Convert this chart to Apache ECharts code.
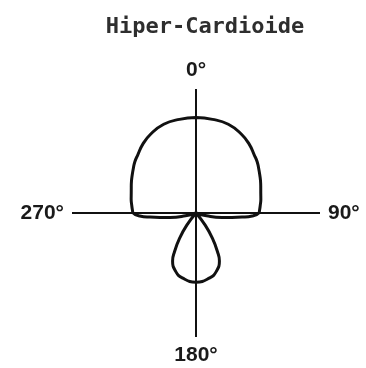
<!DOCTYPE html>
<html>
<head>
<meta charset="utf-8">
<style>
  html, body { margin: 0; padding: 0; background: #fff; }
  #chart { width: 366px; height: 368px; }
</style>
<script src="https://cdn.jsdelivr.net/npm/echarts@6/dist/echarts.min.js"></script>
</head>
<body>
<div id="chart"></div>
<script>
// Hypercardioid pick-up pattern: relative level (1 = on-axis) at each angle in degrees.
var patternAngles = [
  0, 10, 20, 30, 38, 45, 50, 54, 60, 64, 68, 73, 78, 83, 87, 90, 93, 95, 100, 105, 112,
  138, 143, 147, 151, 154, 161, 168, 180, 192, 199, 206, 209, 213, 217, 222,
  248, 255, 260, 265, 267, 270, 273, 277, 282, 287, 292, 296, 300, 306, 310, 315, 322, 330, 340, 350, 360
];
var patternLevels = [
  1.00, 0.997, 0.99, 0.953, 0.91, 0.863, 0.837, 0.81, 0.774, 0.753, 0.732, 0.71, 0.695, 0.679, 0.668, 0.658, 0.59, 0.485, 0.275, 0.115, 0,
  0, 0.16, 0.315, 0.465, 0.56, 0.65, 0.695, 0.725, 0.695, 0.65, 0.56, 0.465, 0.315, 0.16, 0,
  0, 0.115, 0.275, 0.485, 0.59, 0.658, 0.668, 0.679, 0.695, 0.71, 0.732, 0.753, 0.774, 0.81, 0.837, 0.863, 0.91, 0.953, 0.99, 0.997, 1.00
];
// Compass directions marked on the diagram
var directionTicks = [0, 90, 180, 270];
var titleText = 'Hiper-Cardioide';

var patternData = patternAngles.map(function (a, i) { return [patternLevels[i], a]; });

var chart = echarts.init(document.getElementById('chart'), null, { renderer: 'canvas' });
chart.setOption({
  backgroundColor: '#ffffff',
  animation: false,
  title: {
    text: titleText,
    left: 200,
    top: 11,
    textAlign: 'center',
    textStyle: {
      fontFamily: 'DejaVu Sans Mono',
      fontWeight: 'bold',
      fontSize: 22,
      color: '#2e2e2e'
    }
  },
  polar: {
    center: [196, 213],
    radius: 124
  },
  angleAxis: {
    type: 'value',
    min: 0,
    max: 360,
    interval: 90,
    startAngle: 90,
    clockwise: true,
    axisLine: { show: false },
    axisTick: { show: false },
    axisLabel: {
      margin: 8,
      fontFamily: 'Liberation Sans',
      fontWeight: 'bold',
      fontSize: 21,
      color: '#1a1a1a',
      formatter: function (v) {
        return directionTicks.indexOf(v) >= 0 ? v + '°' : '';
      }
    },
    splitLine: { show: true, lineStyle: { color: '#111111', width: 2 } }
  },
  radiusAxis: {
    type: 'value',
    min: 0,
    max: 1.3,
    axisLine: { show: false },
    axisTick: { show: false },
    axisLabel: { show: false },
    splitLine: { show: false }
  },
  series: [{
    name: titleText,
    type: 'line',
    coordinateSystem: 'polar',
    data: patternData,
    smooth: 0.5,
    showSymbol: false,
    symbol: 'none',
    lineStyle: { color: '#111111', width: 3 },
    z: 3
  }]
});
</script>
</body>
</html>
